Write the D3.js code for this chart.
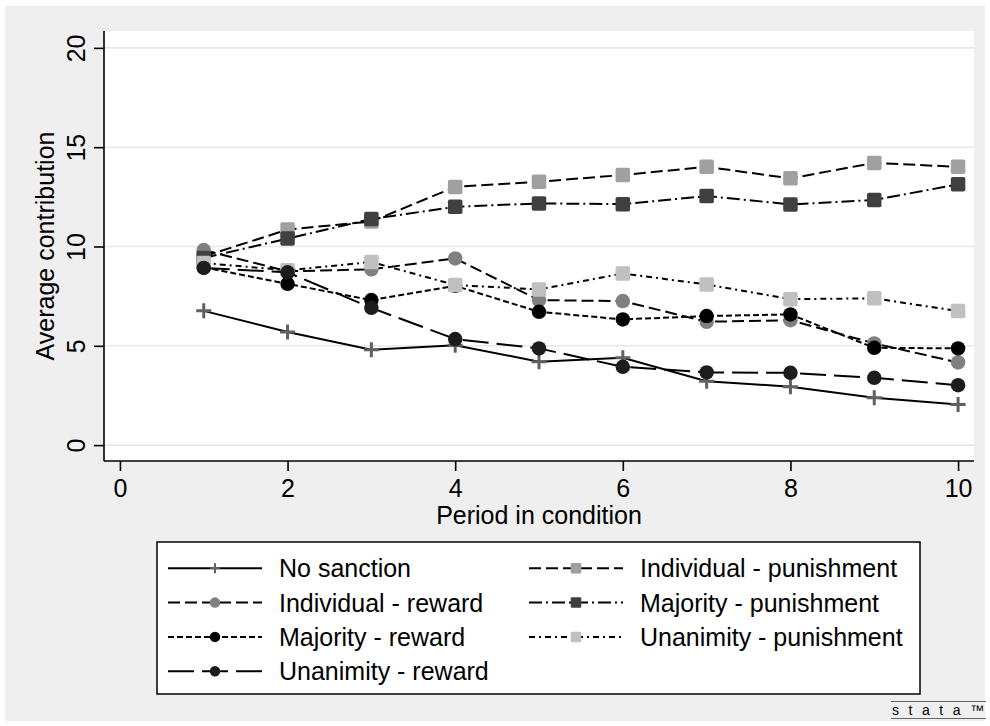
<!DOCTYPE html>
<html>
<head>
<meta charset="utf-8">
<script src="https://cdn.jsdelivr.net/npm/d3@7"></script>
<style>
  body { margin: 0; background: #fff; }
  text { font-family: "Liberation Sans", Arial, Helvetica, sans-serif; fill: #000; }
</style>
</head>
<body>
<div id="chart"></div>
<script>
// values
const periods = [1, 2, 3, 4, 5, 6, 7, 8, 9, 10];
const noSanction = [6.76, 5.70, 4.80, 5.03, 4.20, 4.40, 3.22, 2.94, 2.38, 2.05];
const indPunish  = [9.50, 10.85, 11.26, 13.00, 13.26, 13.60, 14.01, 13.43, 14.21, 14.01];
const indReward  = [9.82, 8.75, 8.85, 9.40, 7.30, 7.25, 6.21, 6.29, 5.12, 4.16];
const majPunish  = [9.42, 10.40, 11.38, 12.00, 12.17, 12.13, 12.54, 12.12, 12.34, 13.13];
const majReward  = [8.95, 8.12, 7.30, 8.02, 6.71, 6.33, 6.50, 6.58, 4.90, 4.87];
const unaPunish  = [9.17, 8.80, 9.22, 8.06, 7.84, 8.64, 8.09, 7.35, 7.39, 6.75];
const unaReward  = [8.92, 8.70, 6.91, 5.34, 4.87, 3.94, 3.66, 3.64, 3.39, 3.02];

const xTicks = [0, 2, 4, 6, 8, 10];
const yTicks = [0, 5, 10, 15, 20];

// series in stata drawing order
const series = [
  { name: "No sanction", values: noSanction, marker: "plus", color: "#606060", dash: null },
  { name: "Individual - punishment", values: indPunish, marker: "square", color: "#a0a0a0", dash: "12,5" },
  { name: "Individual - reward", values: indReward, marker: "circle", color: "#808080", dash: "12,5" },
  { name: "Majority - punishment", values: majPunish, marker: "square", color: "#404040", dash: "13,4,2,4" },
  { name: "Majority - reward", values: majReward, marker: "circle", color: "#000000", dash: "6,3" },
  { name: "Unanimity - punishment", values: unaPunish, marker: "square", color: "#c0c0c0", dash: "6,4,2,4" },
  { name: "Unanimity - reward", values: unaReward, marker: "circle", color: "#1c1c1c", dash: "26,8" }
];
// legend columns (left column then right column)
const legendLeft = ["No sanction", "Individual - reward", "Majority - reward", "Unanimity - reward"];
const legendRight = ["Individual - punishment", "Majority - punishment", "Unanimity - punishment"];

const width = 990, height = 726;
const plot = { left: 104, right: 974, top: 31, bottom: 461 };
const fs = 25;

const svg = d3.select("#chart").append("svg")
  .attr("width", width)
  .attr("height", height);

// graph region
svg.append("rect").attr("x", 5).attr("y", 6).attr("width", 980).attr("height", 715).attr("fill", "#efefef");
svg.append("rect")
  .attr("x", plot.left).attr("y", plot.top)
  .attr("width", plot.right - plot.left).attr("height", plot.bottom - plot.top)
  .attr("fill", "#fff");

const xScale = d3.scaleLinear().domain([-0.19, 10.19]).range([plot.left, plot.right]);
const yScale = d3.scaleLinear().domain([-0.8, 20.85]).range([plot.bottom, plot.top]);

// gridlines
svg.append("g").selectAll("line").data(yTicks).join("line")
  .attr("x1", plot.left).attr("x2", plot.right)
  .attr("y1", d => yScale(d)).attr("y2", d => yScale(d))
  .attr("stroke", "#e8e8e8").attr("stroke-width", 1.6);

// axes
const xAxis = svg.append("g")
  .attr("transform", `translate(0,${plot.bottom})`)
  .call(d3.axisBottom(xScale).tickValues(xTicks).tickSize(10).tickPadding(8).tickSizeOuter(0));
const yAxis = svg.append("g")
  .attr("transform", `translate(${plot.left},0)`)
  .call(d3.axisLeft(yScale).tickValues(yTicks).tickSize(10).tickSizeOuter(0));

[xAxis, yAxis].forEach(a => {
  a.select(".domain").attr("stroke", "#000").attr("stroke-width", 1.6);
  a.selectAll(".tick line").attr("stroke", "#000").attr("stroke-width", 1.6);
  a.selectAll("text").attr("font-size", fs).attr("fill", "#000")
    .attr("font-family", "'Liberation Sans', Arial, sans-serif");
});
xAxis.select(".domain").attr("d", `M${plot.left},0H${plot.right}`);
yAxis.select(".domain").attr("d", `M0,${plot.top}V${plot.bottom}`);
yAxis.selectAll(".tick text")
  .attr("x", null).attr("dy", null)
  .attr("text-anchor", "middle")
  .attr("transform", "translate(-19,0) rotate(-90)");

// axis titles
svg.append("text")
  .attr("x", (plot.left + plot.right) / 2).attr("y", 524)
  .attr("text-anchor", "middle").attr("font-size", fs)
  .text("Period in condition");
svg.append("text")
  .attr("transform", `translate(54,${(plot.top + plot.bottom) / 2}) rotate(-90)`)
  .attr("text-anchor", "middle").attr("font-size", fs)
  .text("Average contribution");

function drawMarker(g, type, color, cx, cy, size) {
  if (type === "circle") {
    g.append("circle").attr("cx", cx).attr("cy", cy).attr("r", size / 2).attr("fill", color);
  } else if (type === "square") {
    g.append("rect").attr("x", cx - size / 2).attr("y", cy - size / 2)
      .attr("width", size).attr("height", size).attr("rx", size * 0.12).attr("fill", color);
  } else {
    g.append("path")
      .attr("d", `M${cx - size / 2},${cy}H${cx + size / 2}M${cx},${cy - size / 2}V${cy + size / 2}`)
      .attr("stroke", color).attr("stroke-width", size / 5);
  }
}

const line = d3.line().x((d, i) => xScale(periods[i])).y(d => yScale(d));

series.forEach(s => {
  const g = svg.append("g");
  g.append("path").datum(s.values)
    .attr("d", line).attr("fill", "none")
    .attr("stroke", "#000").attr("stroke-width", 2)
    .attr("stroke-dasharray", s.dash);
  s.values.forEach((v, i) => drawMarker(g, s.marker, s.color, xScale(periods[i]), yScale(v), s.marker === "plus" ? 15 : 14.5));
});

// legend
svg.append("rect").attr("x", 157).attr("y", 542).attr("width", 763).attr("height", 152)
  .attr("fill", "#fff").attr("stroke", "#000").attr("stroke-width", 1.5);

function legendItem(name, x0, row) {
  const s = series.find(d => d.name === name);
  const y = 568.3 + row * 34.3;
  const g = svg.append("g");
  g.append("line").attr("x1", x0).attr("x2", x0 + 94).attr("y1", y).attr("y2", y)
    .attr("stroke", "#000").attr("stroke-width", 2).attr("stroke-dasharray", s.dash);
  drawMarker(g, s.marker, s.color, x0 + 47, y, s.marker === "plus" ? 10 : 10.5);
  g.append("text").attr("x", x0 + 111).attr("y", y + 9).attr("font-size", fs).text(name);
}
legendLeft.forEach((n, i) => legendItem(n, 168, i));
legendRight.forEach((n, i) => legendItem(n, 529, i));

// stata logo
const logo = svg.append("g");
logo.append("line").attr("x1", 891).attr("x2", 986).attr("y1", 701.5).attr("y2", 701.5).attr("stroke", "#666").attr("stroke-width", 1.2);
logo.append("line").attr("x1", 891).attr("x2", 986).attr("y1", 718.5).attr("y2", 718.5).attr("stroke", "#666").attr("stroke-width", 1.2);
logo.append("text").attr("x", 892).attr("y", 715).attr("font-size", 14)
  .attr("font-family", "'DejaVu Sans', sans-serif").attr("fill", "#555")
  .attr("textLength", 92).attr("lengthAdjust", "spacing")
  .text("stata\u2122");
</script>
</body>
</html>
